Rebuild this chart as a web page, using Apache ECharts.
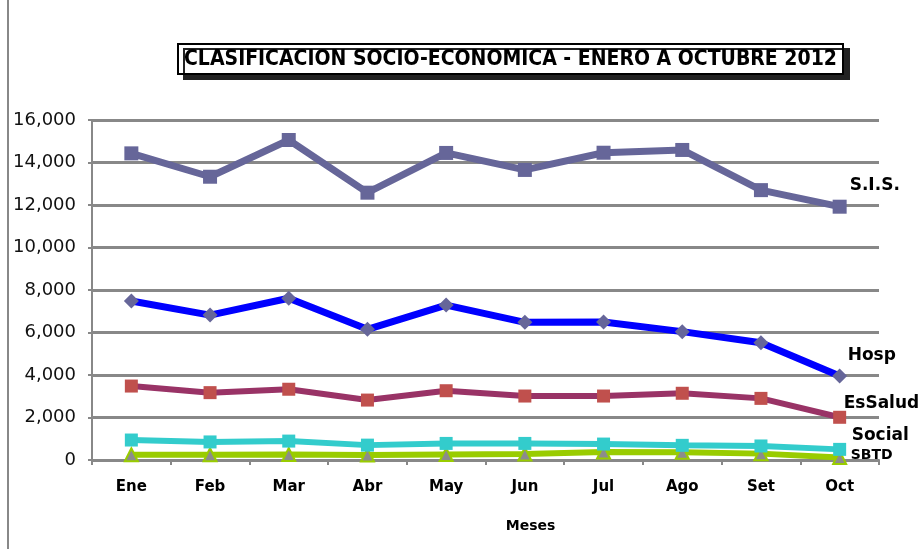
<!DOCTYPE html>
<html>
<head>
<meta charset="UTF-8">
<title>Clasificacion socio-economica</title>
<script src="https://cdn.jsdelivr.net/npm/echarts@6/dist/echarts.min.js"></script>
<style>
  html, body { margin: 0; padding: 0; background: #fff; }
  #chart { width: 924px; height: 549px; }
</style>
</head>
<body>
<div id="chart"></div>
<script>
// months
var meses = ['Ene', 'Feb', 'Mar', 'Abr', 'May', 'Jun', 'Jul', 'Ago', 'Set', 'Oct'];

// series values
var sis     = [14430, 13330, 15060, 12580, 14450, 13650, 14460, 14590, 12700, 11920];
var hosp    = [7480, 6820, 7610, 6150, 7290, 6480, 6490, 6040, 5520, 3950];
var esSalud = [3480, 3170, 3330, 2820, 3260, 3010, 3010, 3140, 2900, 2010];
var social  = [940, 850, 890, 700, 780, 780, 750, 690, 660, 500];
var sbtd    = [250, 250, 260, 240, 260, 280, 380, 370, 300, 120];

var yTicks = [0, 2000, 4000, 6000, 8000, 10000, 12000, 14000, 16000];

var font = 'Verdana, "DejaVu Sans", sans-serif';
var titleFont = '"DejaVu Sans Condensed", Tahoma, "DejaVu Sans", sans-serif';

function fmt(v) {
  return String(v).replace(/\B(?=(\d{3})+(?!\d))/g, ',');
}

function serie(name, data, lineColor, lineWidth, symbol, symbolSize, itemColor, borderColor, labelOffset, labelSize) {
  return {
    name: name,
    type: 'line',
    data: data,
    symbol: symbol,
    symbolSize: symbolSize,
    showAllSymbol: true,
    lineStyle: { color: lineColor, width: lineWidth },
    itemStyle: { color: itemColor, borderColor: borderColor, borderWidth: borderColor ? 2 : 0 },
    endLabel: {
      show: true,
      formatter: name,
      fontFamily: font,
      fontWeight: 'bold',
      fontSize: labelSize,
      color: '#000',
      offset: labelOffset
    },
    emphasis: { disabled: true },
    animation: false,
    z: 3
  };
}

var chart = echarts.init(document.getElementById('chart'), null, { renderer: 'canvas' });
chart.setOption({
  backgroundColor: '#fff',
  title: {
    text: 'CLASIFICACION SOCIO-ECONOMICA - ENERO A OCTUBRE 2012',
    left: 178,
    top: 44,
    padding: [5, 6, 4, 6],
    backgroundColor: '#fff',
    borderColor: '#000',
    borderWidth: 2,
    shadowColor: '#222',
    shadowOffsetX: 6,
    shadowOffsetY: 5,
    shadowBlur: 0,
    textStyle: {
      fontFamily: titleFont,
      fontWeight: 'bold',
      fontSize: 21,
      color: '#000'
    }
  },
  graphic: [{
    type: 'line',
    shape: { x1: 8, y1: 0, x2: 8, y2: 549 },
    style: { stroke: '#888', lineWidth: 2 }
  }],
  grid: { left: 92, right: 45, top: 120, bottom: 89 },
  xAxis: {
    type: 'category',
    data: meses,
    boundaryGap: true,
    name: 'Meses',
    nameLocation: 'middle',
    nameGap: 59,
    nameTextStyle: { fontFamily: font, fontWeight: 'bold', fontSize: 14, color: '#000', padding: [0, 0, 0, 90] },
    axisLine: { lineStyle: { color: '#888', width: 2 } },
    axisTick: { show: true, length: 5, lineStyle: { color: '#888', width: 2 } },
    axisLabel: { fontFamily: font, fontWeight: 'bold', fontSize: 15, color: '#000', margin: 20 }
  },
  yAxis: {
    type: 'value',
    min: yTicks[0],
    max: yTicks[yTicks.length - 1],
    interval: 2000,
    axisLine: { show: true, lineStyle: { color: '#888', width: 2 } },
    axisTick: { show: true, length: 4, lineStyle: { color: '#888', width: 2 } },
    axisLabel: { fontFamily: font, fontSize: 18, color: '#111', margin: 16, formatter: fmt },
    splitLine: { lineStyle: { color: '#888', width: 3 } }
  },
  series: [
    serie('SBTD', sbtd, '#99cc00', 6, 'triangle', 13, '#8c8c8c', '#99cc00', [3, -2], 14),
    serie('Social', social, '#33cccc', 6, 'rect', 13, '#33cccc', null, [4, -14], 17),
    serie('EsSalud', esSalud, '#993366', 6, 'rect', 13, '#c0504d', null, [-4, -14], 17),
    serie('Hosp', hosp, '#0000ff', 7, 'diamond', 15, '#666699', null, [0, -20], 17),
    serie('S.I.S.', sis, '#666699', 7, 'rect', 14, '#666699', null, [2, -21], 17)
  ]
});
</script>
</body>
</html>
